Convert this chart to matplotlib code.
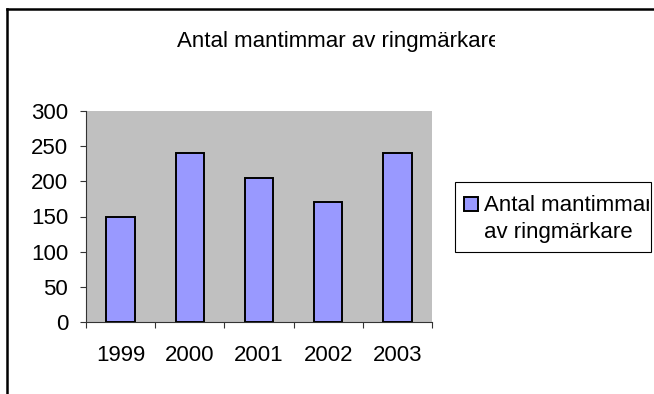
import matplotlib.pyplot as plt
from matplotlib.lines import Line2D
from matplotlib.patches import Rectangle
from matplotlib.transforms import Bbox, TransformedBbox

years = ['1999', '2000', '2001', '2002', '2003']
hours = [150, 240, 205, 170, 240]
yticks = [0, 50, 100, 150, 200, 250, 300]

title = 'Antal mantimmar av ringmärkare'
legend_lines = ['Antal mantimmar', 'av ringmärkare']

plt.rcParams['font.family'] = ['Liberation Sans', 'DejaVu Sans']
W, H = 654, 394
FS = 16
fig = plt.figure(figsize=(W / 100, H / 100), dpi=100)

def fx(px):
    return px / W

def fy(py):
    return 1 - py / H

# outer chart frame (only top and left edges show)
fig.add_artist(Line2D([fx(7), fx(7)], [fy(9), 0], color='black', lw=1.8))
fig.add_artist(Line2D([fx(7), 1], [fy(9), fy(9)], color='black', lw=1.8))

ax = fig.add_axes([fx(86), fy(322), fx(432) - fx(86), fy(111) - fy(322)])
ax.set_facecolor('#c0c0c0')
x = list(range(len(years)))
ax.bar(x, hours, width=0.41, color='#9999ff', edgecolor='black', linewidth=1.4, zorder=3)

ax.set_xlim(-0.5, len(years) - 0.5)
ax.set_ylim(0, 300)
ax.set_yticks(yticks)
ax.set_yticklabels([str(v) for v in yticks])
ax.set_xticks([i - 0.5 for i in range(len(years) + 1)])
ax.set_xticklabels([])
ax.set_xticks(x, minor=True)
ax.set_xticklabels(years, minor=True)
ax.tick_params(axis='x', which='major', direction='out', length=4.3, width=0.8, color='#333333')
ax.tick_params(axis='x', which='minor', length=0, pad=16.5, labelsize=FS)
ax.tick_params(axis='y', direction='out', length=4.3, width=0.8, color='#333333', pad=8.6, labelsize=FS)
for side in ['top', 'right']:
    ax.spines[side].set_visible(False)
for side in ['left', 'bottom']:
    ax.spines[side].set_color('#333333')
    ax.spines[side].set_linewidth(0.8)

# title, cut off on the right
t = fig.text(fx(177), fy(47), title, fontsize=FS, ha='left', va='baseline')
t.set_clip_box(TransformedBbox(Bbox.from_extents(0, 0, fx(495), 1), fig.transFigure))
t.set_clip_on(True)

# legend box drawn by hand so the text can be cut at its border
fig.add_artist(Rectangle((fx(455), fy(252)), fx(651) - fx(455), fy(182) - fy(252),
                         transform=fig.transFigure, facecolor='white', edgecolor='black', lw=0.8))
fig.add_artist(Rectangle((fx(464), fy(211)), fx(478) - fx(464), fy(197) - fy(211),
                         transform=fig.transFigure, facecolor='#9999ff', edgecolor='black', lw=1.4))
clip = TransformedBbox(Bbox.from_extents(0, 0, fx(649), 1), fig.transFigure)
for line, base in zip(legend_lines, [211, 238]):
    lt = fig.text(fx(484), fy(base), line, fontsize=FS, ha='left', va='baseline')
    lt.set_clip_box(clip)
    lt.set_clip_on(True)

fig.savefig('out.png', dpi=100)
